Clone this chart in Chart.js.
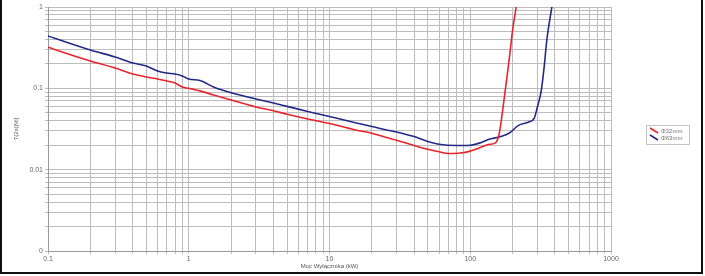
<!DOCTYPE html>
<html><head><meta charset="utf-8">
<script src="https://cdn.jsdelivr.net/npm/chart.js@4.4.1/dist/chart.umd.min.js"></script>
<style>html,body{margin:0;padding:0;background:#fff}#wrap{width:705px;height:276px;position:relative}</style>
</head><body><div id="wrap"><canvas id="c" width="705" height="276"></canvas></div>
<script>
const xTickLabels = ['0.1','1','10','100','1000'];
const yTickLabels = {1:'1',0.1:'0.1',0.01:'0.01',0.001:'0'};
const seriesNames = ['Φ32mm','Φ63mm'];
const redX = [0.1,0.2,0.3,0.4,0.5,0.6,0.7,0.8,0.9,1,1.2,1.5,2,3,4,5,7,10,15,20,25,30,40,50,60,70,85,100,115,135,150,160,170,180,190,200,212];
const redY = [0.32,0.217,0.178,0.150,0.138,0.130,0.123,0.116,0.104,0.100,0.093,0.083,0.072,0.059,0.053,0.048,0.042,0.037,0.031,0.028,0.025,0.023,0.0198,0.0178,0.0166,0.0158,0.0160,0.0169,0.0184,0.0204,0.0212,0.0267,0.054,0.116,0.243,0.521,1.0];
const blueX = [0.1,0.2,0.3,0.4,0.5,0.6,0.7,0.8,0.9,1,1.2,1.5,2,3,4,5,7,10,15,20,25,30,40,50,60,80,100,116,136,160,190,220,260,285,300,320,335,350,380];
const blueY = [0.44,0.296,0.243,0.205,0.188,0.163,0.154,0.150,0.142,0.130,0.125,0.104,0.088,0.074,0.066,0.060,0.052,0.045,0.038,0.034,0.031,0.029,0.0255,0.0222,0.0205,0.0198,0.0200,0.0212,0.0236,0.0252,0.0282,0.0350,0.0385,0.0431,0.0589,0.0953,0.183,0.393,1.0];

function pts(xs, ys){ return xs.map((x,i)=>({x:x,y:ys[i]})); }
function logTicks(min,max){ const t=[]; for(let e=Math.round(Math.log10(min)); e<Math.round(Math.log10(max)); e++){ for(let k=1;k<10;k++) t.push({value:k*Math.pow(10,e)}); } t.push({value:max}); return t; }

const framePlugin = {
  id:'frame',
  afterDraw(chart){
    const ctx = chart.ctx;
    ctx.save();
    ctx.strokeStyle='#111'; ctx.lineWidth=2;
    ctx.beginPath();
    ctx.moveTo(1,0); ctx.lineTo(1,273); ctx.lineTo(702,273); ctx.lineTo(702,0);
    ctx.stroke();
    const bx=646, by=125, bw=43, bh=19;
    ctx.fillStyle='#fff'; ctx.fillRect(bx,by,bw,bh);
    ctx.strokeStyle='#c4c4c4'; ctx.lineWidth=1; ctx.strokeRect(bx+0.5,by+0.5,bw,bh);
    chart.data.datasets.forEach((ds,i)=>{
      const yy = by+6+i*7;
      ctx.strokeStyle=ds.borderColor; ctx.lineWidth=1.6;
      ctx.beginPath(); ctx.moveTo(bx+4,yy-3); ctx.lineTo(bx+12,yy+2); ctx.stroke();
      ctx.fillStyle='#777'; ctx.font='6px "Liberation Sans", Arial, sans-serif';
      ctx.textBaseline='middle'; ctx.fillText(ds.label,bx+15,yy);
    });
    ctx.restore();
  }
};

new Chart(document.getElementById('c'),{
  type:'line',
  data:{datasets:[
    {label:seriesNames[0],data:pts(redX,redY),borderColor:'#e8242c',borderWidth:1.6,pointRadius:0,cubicInterpolationMode:'monotone',fill:false},
    {label:seriesNames[1],data:pts(blueX,blueY),borderColor:'#232a86',borderWidth:1.6,pointRadius:0,cubicInterpolationMode:'monotone',fill:false}
  ]},
  options:{
    responsive:false,animation:false,
    layout:{padding:{left:13,right:94,top:7,bottom:6}},
    plugins:{legend:{display:false},tooltip:{enabled:false}},
    scales:{
      x:{type:'logarithmic',min:0.1,max:1000,
        afterBuildTicks(s){ s.ticks = logTicks(0.1,1000); },
        afterFit(s){ s.height = 19; },
        grid:{color:'#bdbdbd',lineWidth:1,drawTicks:true,tickLength:3},
        border:{color:'#999'},
        ticks:{autoSkip:false,maxRotation:0,color:'#666',font:{size:7,family:'"Liberation Sans", Arial, sans-serif'},padding:1,
          callback(v){ const l=Math.log10(v); return Math.abs(l-Math.round(l))<1e-6 ? xTickLabels[Math.round(l)+1] : ''; }},
        title:{display:true,text:'Moc Wyłącznika (kW)',color:'#555',font:{size:6,family:'"Liberation Sans", Arial, sans-serif'},padding:{top:0,bottom:0}}
      },
      y:{type:'logarithmic',min:0.001,max:1,
        afterBuildTicks(s){ s.ticks = logTicks(0.001,1); },
        afterFit(s){ s.width = 35; },
        grid:{color:'#bdbdbd',lineWidth:1,tickLength:3},
        border:{color:'#999'},
        ticks:{autoSkip:false,color:'#666',font:{size:7,family:'"Liberation Sans", Arial, sans-serif'},padding:2,
          callback(v){ for(const k in yTickLabels){ if(Math.abs(v-Number(k))<Number(k)*1e-6) return yTickLabels[k]; } return ''; }},
        title:{display:true,text:'T(2s)[%]',color:'#555',font:{size:6,family:'"Liberation Sans", Arial, sans-serif'},padding:{top:0,bottom:2}}
      }
    }
  },
  plugins:[framePlugin]
});
</script></body></html>
